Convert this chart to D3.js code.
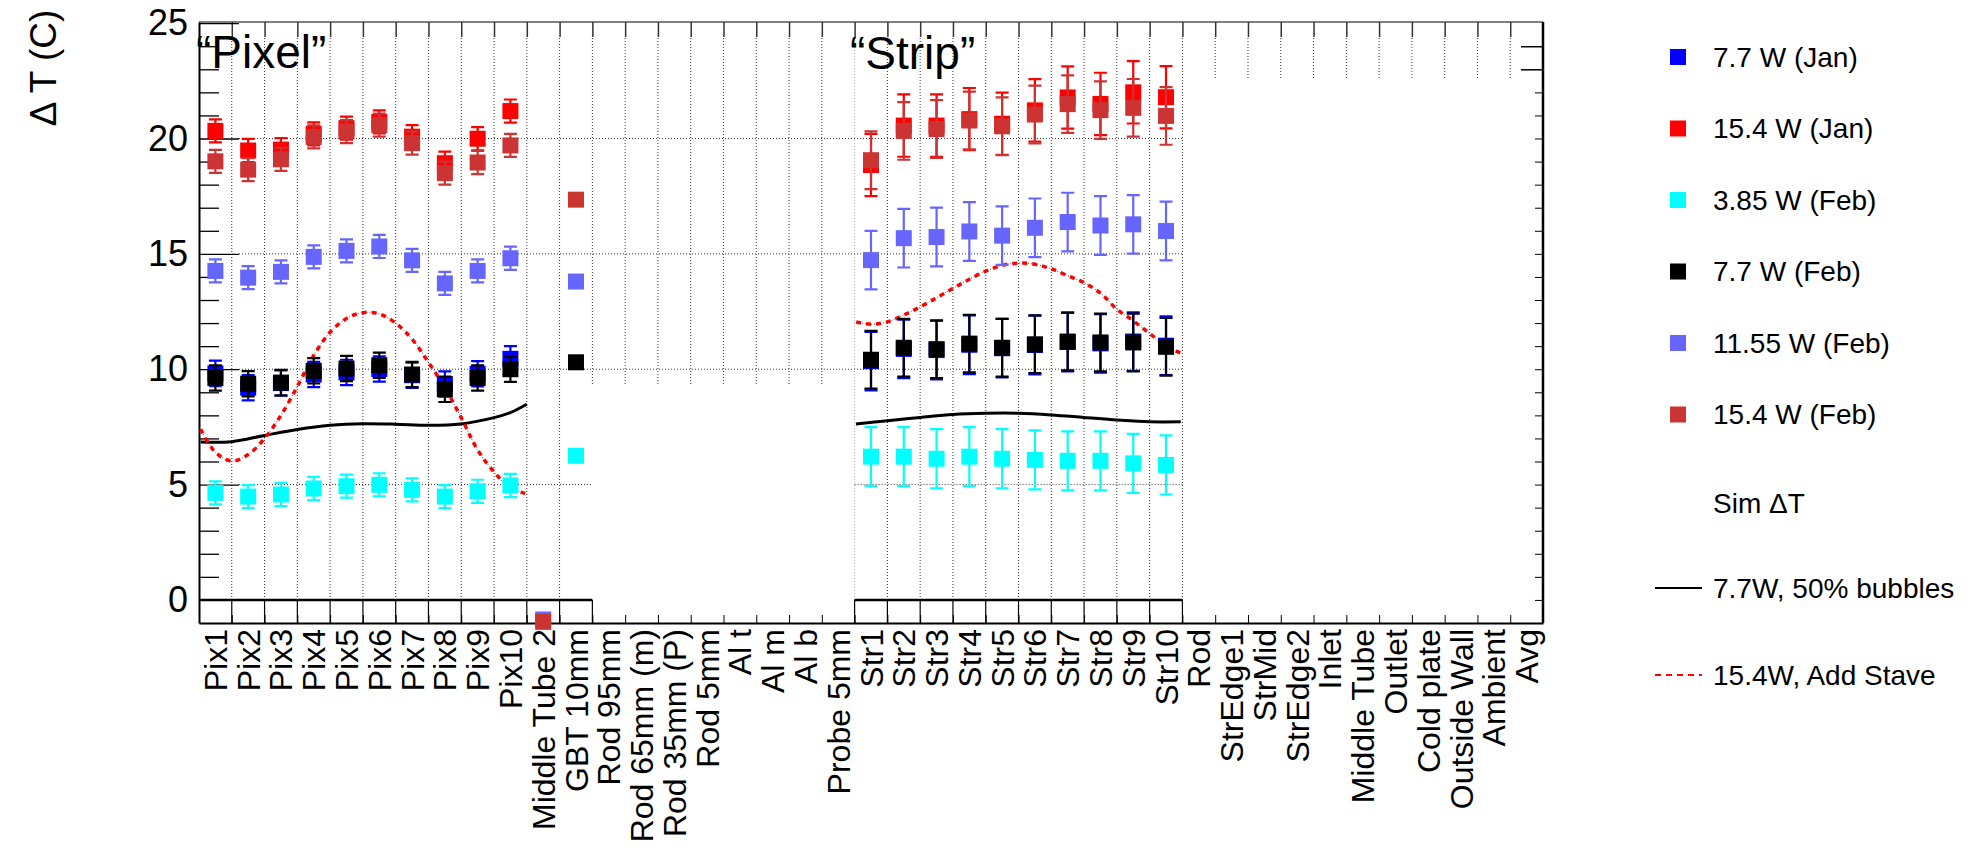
<!DOCTYPE html>
<html lang="en">
<head>
<meta charset="utf-8" />
<title>Delta T per sensor</title>
<script src="https://d3js.org/d3.v7.min.js"></script>
<style>
  body { margin: 0; background: #fff; }
  svg { display: block; font-family: "Liberation Sans", Arial, sans-serif; }
</style>
</head>
<body>
<div id="container"></div>
<script>
// bin labels along the x axis
const categories = ['Pix1', 'Pix2', 'Pix3', 'Pix4', 'Pix5', 'Pix6', 'Pix7', 'Pix8', 'Pix9', 'Pix10',
  'Middle Tube 2', 'GBT 10mm', 'Rod 95mm', 'Rod 65mm (m)', 'Rod 35mm (P)', 'Rod 5mm', 'Al t', 'Al m', 'Al b', 'Probe 5mm',
  'Str1', 'Str2', 'Str3', 'Str4', 'Str5', 'Str6', 'Str7', 'Str8', 'Str9', 'Str10',
  'Rod', 'StrEdge1', 'StrMid', 'StrEdge2', 'Inlet', 'Middle Tube', 'Outlet', 'Cold plate', 'Outside Wall', 'Ambient', 'Avg'];

const yTicks = [0, 5, 10, 15, 20, 25];

const seriesNames = ['7.7 W (Jan)', '15.4 W (Jan)', '3.85 W (Feb)', '7.7 W (Feb)', '11.55 W (Feb)', '15.4 W (Feb)'];
const seriesColors = ['#0000ff', '#ff0000', '#00ffff', '#000000', '#6666ff', '#cc3333'];

// measured dT on the pixel sensors (Pix1..Pix10)
const jan77Pix = [9.82, 9.2, 9.4, 9.77, 9.86, 10.01, 9.74, 9.36, 9.8, 10.45];
const jan154Pix = [20.33, 19.48, 19.52, 20.2, 20.45, 20.72, 20.08, 18.93, 19.99, 21.19];
const feb385Pix = [4.64, 4.48, 4.57, 4.83, 4.93, 4.99, 4.77, 4.48, 4.71, 4.96];
const feb77Pix = [9.62, 9.37, 9.42, 9.93, 10.03, 10.17, 9.77, 9.13, 9.62, 10.0];
const feb1155Pix = [14.26, 13.97, 14.22, 14.87, 15.13, 15.32, 14.72, 13.72, 14.26, 14.81];
const feb154Pix = [19.01, 18.65, 19.1, 20.07, 20.3, 20.58, 19.8, 18.5, 18.96, 19.7];

// measured dT on the strip sensors (Str1..Str10)
const jan77Str = [10.35, 10.88, 10.83, 11.06, 10.91, 11.05, 11.18, 11.12, 11.2, 11.02];
const jan154Str = [18.85, 20.56, 20.56, 20.84, 20.64, 21.22, 21.78, 21.5, 22.0, 21.79];
const feb385Str = [6.21, 6.21, 6.12, 6.21, 6.12, 6.07, 6.03, 6.03, 5.92, 5.85];
const feb77Str = [10.41, 10.93, 10.87, 11.11, 10.93, 11.08, 11.2, 11.16, 11.16, 10.97];
const feb1155Str = [14.73, 15.68, 15.73, 15.97, 15.79, 16.13, 16.38, 16.23, 16.28, 15.99];
const feb154Str = [19.06, 20.33, 20.41, 20.78, 20.53, 21.04, 21.49, 21.23, 21.33, 20.98];

const pixErrors = [0.55, 0.5, 0.5, 0.55, 0.5, 0.5];
const strErrors = [1.27, 1.35, 1.28, 1.25, 1.27, 1.25];

// single readings without error bars
const gbtValues = [null, null, 6.25, 10.3, 13.8, 17.35];
const tube2Values = [null, null, null, null, -0.85, -0.95];

// simulation curves, x in bin units
const bubblesPixX = [0.05, 1, 2, 3, 4, 5, 6, 7, 8, 9, 9.5, 10];
const bubblesPixY = [6.84, 6.86, 7.13, 7.39, 7.57, 7.64, 7.62, 7.57, 7.63, 7.9, 8.12, 8.48];
const bubblesStrX = [20.04, 21, 22, 23, 24, 25, 26, 27, 28, 29, 29.95];
const bubblesStrY = [7.63, 7.77, 7.91, 8.04, 8.09, 8.09, 8.02, 7.91, 7.8, 7.72, 7.72];
const stavePixX = [0.05, 0.5, 1, 1.5, 2, 2.5, 3, 3.5, 4, 4.5, 5, 5.5, 6, 6.5, 7, 7.5, 8, 8.5, 9, 9.5, 9.95];
const stavePixY = [7.4, 6.4, 6.02, 6.3, 7.0, 8.0, 9.25, 10.6, 11.6, 12.2, 12.45, 12.4, 12.0, 11.3, 10.3, 9.2, 7.9, 6.5, 5.55, 4.85, 4.62];
const staveStrX = [20.05, 20.5, 21, 21.5, 22, 22.5, 23, 23.5, 24, 24.5, 25, 25.5, 26, 26.5, 27, 27.5, 28, 28.5, 29, 29.5, 29.95];
const staveStrY = [12.05, 11.95, 12.05, 12.35, 12.7, 13.1, 13.5, 13.9, 14.25, 14.5, 14.6, 14.55, 14.35, 14.05, 13.75, 13.3, 12.6, 12.1, 11.55, 11.0, 10.7];

const legendSim = ['7.7W, 50% bubbles', '15.4W, Add Stave'];

const width = 1979;
const height = 852;
const plotLeft = 199, plotRight = 1543, plotTop = 22, plotBottom = 623;

const svg = d3.select('#container')
  .append('svg')
  .attr('width', width)
  .attr('height', height);

const x = d3.scaleBand().domain(categories).range([plotLeft, plotRight]).padding(0);
const xk = d3.scaleLinear().domain([0, categories.length]).range([plotLeft, plotRight]);
const y = d3.scaleLinear().domain([-1, 25.05]).range([plotBottom, plotTop]);

const pixCats = categories.slice(0, 10);
const strCats = categories.slice(20, 30);
const pixSeries = [jan77Pix, jan154Pix, feb385Pix, feb77Pix, feb1155Pix, feb154Pix];
const strSeries = [jan77Str, jan154Str, feb385Str, feb77Str, feb1155Str, feb154Str];

// ---- grid (the picture is several overlaid frames, so the grid is patchy)
const grid = svg.append('g')
  .attr('fill', 'none')
  .attr('stroke', '#333')
  .attr('stroke-width', 1)
  .attr('stroke-dasharray', '1,2');

const vGrid = [
  ...d3.range(1, 12).map(k => ({ k, y2: y(0) })),
  ...d3.range(12, 20).map(k => ({ k, y2: y(9.35) })),
  ...d3.range(21, 31).map(k => ({ k, y2: y(0) })),
  ...d3.range(31, 41).map(k => ({ k, y2: 80 }))
];
grid.selectAll('.vgrid')
  .data(vGrid)
  .enter()
  .append('line')
  .attr('x1', d => xk(d.k))
  .attr('x2', d => xk(d.k))
  .attr('y1', 38)
  .attr('y2', d => d.y2);

grid.append('line')
  .attr('x1', xk(20)).attr('x2', xk(20))
  .attr('y1', 38).attr('y2', y(0))
  .attr('stroke', '#aaa');

const hGrid = [
  { v: 20, from: 0, to: 30 }, { v: 15, from: 0, to: 30 }, { v: 10, from: 0, to: 30 },
  { v: 5, from: 0, to: 12 }, { v: 5, from: 20, to: 30 }
];
grid.selectAll('.hgrid')
  .data(hGrid)
  .enter()
  .append('line')
  .attr('x1', d => d.from === 0 ? plotLeft + 40 : xk(d.from))
  .attr('x2', d => xk(d.to))
  .attr('y1', d => y(d.v))
  .attr('y2', d => y(d.v));

// zero lines of the two sub frames
svg.selectAll('.zero')
  .data([[0, 12], [20, 30]])
  .enter()
  .append('line')
  .attr('x1', d => xk(d[0]))
  .attr('x2', d => xk(d[1]))
  .attr('y1', y(0))
  .attr('y2', y(0))
  .attr('stroke', '#000')
  .attr('stroke-width', 2.5);

svg.selectAll('.subtick')
  .data([...d3.range(1, 13), ...d3.range(20, 31)])
  .enter()
  .append('line')
  .attr('x1', d => xk(d))
  .attr('x2', d => xk(d))
  .attr('y1', y(0))
  .attr('y2', plotBottom)
  .attr('stroke', '#000')
  .attr('stroke-width', 1.2);

// ---- frame and axes
svg.append('line').attr('x1', plotLeft).attr('x2', plotRight).attr('y1', plotTop).attr('y2', plotTop)
  .attr('stroke', '#555').attr('stroke-width', 1.5);
svg.append('line').attr('x1', plotRight).attr('x2', plotRight).attr('y1', plotTop).attr('y2', plotBottom)
  .attr('stroke', '#000').attr('stroke-width', 2.5);

const xAxis = svg.append('g')
  .attr('transform', `translate(0, ${plotBottom})`)
  .call(d3.axisBottom(x).tickSize(0).tickPadding(0));
xAxis.select('.domain').attr('stroke', '#000').attr('stroke-width', 2);
xAxis.selectAll('text')
  .attr('transform', 'rotate(-90)')
  .attr('x', -6)
  .attr('y', 0)
  .attr('dy', '0.36em')
  .style('text-anchor', 'end')
  .style('font-size', '32px')
  .attr('fill', '#000');

svg.append('g')
  .attr('transform', `translate(0, ${plotBottom})`)
  .call(d3.axisBottom(xk).tickValues(d3.range(1, 41)).tickSize(-8).tickFormat(''))
  .call(g => g.select('.domain').remove());

svg.append('g')
  .attr('transform', `translate(0, ${plotTop})`)
  .call(d3.axisTop(xk).tickValues(d3.range(1, 41)).tickSize(-15).tickFormat(''))
  .call(g => g.select('.domain').remove())
  .selectAll('line').attr('stroke', '#333').attr('stroke-width', 1.5);

const yAxis = svg.append('g')
  .attr('transform', `translate(${plotLeft}, 0)`)
  .call(d3.axisLeft(y).tickValues(yTicks).tickSizeInner(-40).tickSizeOuter(0).tickPadding(11));
yAxis.select('.domain').attr('stroke', '#000').attr('stroke-width', 2);
yAxis.selectAll('line').attr('stroke', '#000').attr('stroke-width', 1.3);
yAxis.selectAll('text').style('font-size', '36px').attr('fill', '#000');

svg.append('g')
  .attr('transform', `translate(${plotLeft}, 0)`)
  .call(d3.axisLeft(y).tickValues(d3.range(1, 25).filter(v => v % 5)).tickSize(-20).tickFormat(''))
  .call(g => g.select('.domain').remove())
  .selectAll('line').attr('stroke', '#000').attr('stroke-width', 1.3);

svg.append('g')
  .attr('transform', `translate(${plotRight}, 0)`)
  .call(d3.axisRight(y).tickValues(d3.range(0, 23)).tickSize(-8).tickFormat(''))
  .call(g => g.select('.domain').remove());
svg.append('g')
  .attr('transform', `translate(${plotRight}, 0)`)
  .call(d3.axisRight(y).tickValues([23, 24]).tickSize(-22).tickFormat(''))
  .call(g => g.select('.domain').remove())
  .selectAll('line').attr('stroke-width', 1.5);

svg.append('text')
  .attr('transform', 'translate(43, 68) rotate(-90)')
  .attr('text-anchor', 'middle')
  .attr('dominant-baseline', 'central')
  .style('font-size', '37px')
  .text('\u0394 T (C)');

// ---- simulation curves
const line = d3.line()
  .x(d => xk(d[0]))
  .y(d => y(d[1]))
  .curve(d3.curveCatmullRom);

const zip = (xs, ys) => xs.map((v, i) => [v, ys[i]]);

[zip(bubblesPixX, bubblesPixY), zip(bubblesStrX, bubblesStrY)].forEach(pts => {
  svg.append('path')
    .attr('d', line(pts))
    .attr('fill', 'none')
    .attr('stroke', '#000')
    .attr('stroke-width', 3);
});

[zip(stavePixX, stavePixY), zip(staveStrX, staveStrY)].forEach(pts => {
  svg.append('path')
    .attr('d', line(pts))
    .attr('fill', 'none')
    .attr('stroke', '#555')
    .attr('stroke-width', 1)
    .attr('stroke-dasharray', '1,2');
  svg.append('path')
    .attr('d', line(pts))
    .attr('fill', 'none')
    .attr('stroke', '#ff0000')
    .attr('stroke-width', 3.5)
    .attr('stroke-dasharray', '5,5');
});

// ---- measured points with error bars
const half = 8;
const cap = 6.5;

seriesNames.forEach((name, s) => {
  const color = seriesColors[s];
  const points = [
    ...pixCats.map((c, i) => ({ c, v: pixSeries[s][i], e: pixErrors[s] })),
    ...strCats.map((c, i) => ({ c, v: strSeries[s][i], e: strErrors[s] }))
  ];
  if (gbtValues[s] !== null) points.push({ c: 'GBT 10mm', v: gbtValues[s], e: 0 });
  if (tube2Values[s] !== null) points.push({ c: 'Middle Tube 2', v: tube2Values[s], e: 0 });

  const g = svg.append('g').attr('class', 'series');
  const cx = d => x(d.c) + x.bandwidth() / 2;
  const bars = points.filter(d => d.e > 0);

  g.selectAll('.err')
    .data(bars)
    .enter()
    .append('path')
    .attr('d', d => `M${cx(d)},${y(d.v + d.e)}V${y(d.v - d.e)}` +
      `M${cx(d) - cap},${y(d.v + d.e)}H${cx(d) + cap}` +
      `M${cx(d) - cap},${y(d.v - d.e)}H${cx(d) + cap}`)
    .attr('fill', 'none')
    .attr('stroke', color)
    .attr('stroke-width', 2.2);

  g.selectAll('rect')
    .data(points)
    .enter()
    .append('rect')
    .attr('x', d => cx(d) - half)
    .attr('y', d => y(d.v) - half)
    .attr('width', half * 2)
    .attr('height', half * 2)
    .attr('fill', color);
});

// ---- labels inside the frame
svg.append('text').attr('x', 196).attr('y', 68).style('font-size', '46px').text('\u201CPixel\u201D');
svg.append('text').attr('x', 850).attr('y', 69).style('font-size', '46px').text('\u201CStrip\u201D');

// ---- legend
const legend = svg.append('g').style('font-size', '28px');
const legendRow = d3.scaleLinear().domain([0, 5]).range([57, 414.5]);

seriesNames.forEach((name, s) => {
  legend.append('rect')
    .attr('x', 1670).attr('y', legendRow(s) - 8)
    .attr('width', 16).attr('height', 16)
    .attr('fill', seriesColors[s]);
  legend.append('text')
    .attr('x', 1713).attr('y', legendRow(s))
    .attr('dominant-baseline', 'central')
    .text(name);
});

legend.append('text').attr('x', 1713).attr('y', 503)
  .attr('dominant-baseline', 'central').text('Sim \u0394T');

const simRows = [588, 675];
legend.append('line').attr('x1', 1655).attr('x2', 1702).attr('y1', simRows[0]).attr('y2', simRows[0])
  .attr('stroke', '#000').attr('stroke-width', 2);
legend.append('line').attr('x1', 1655).attr('x2', 1702).attr('y1', simRows[1]).attr('y2', simRows[1])
  .attr('stroke', '#ff0000').attr('stroke-width', 2).attr('stroke-dasharray', '6,5');
legendSim.forEach((t, i) => {
  legend.append('text').attr('x', 1713).attr('y', simRows[i])
    .attr('dominant-baseline', 'central').text(t);
});
</script>
</body>
</html>
